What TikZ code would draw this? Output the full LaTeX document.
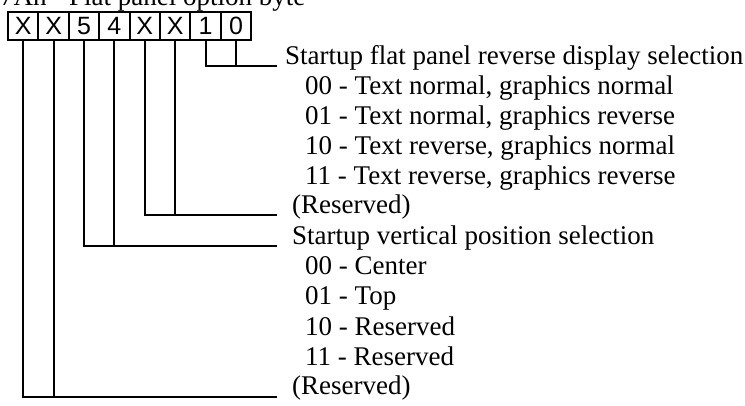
\documentclass[tikz,border=0pt]{standalone}
\usepackage{fontspec}
\setmainfont{Liberation Serif}
\newfontfamily\cellfont{Liberation Sans}
\begin{document}
\begin{tikzpicture}[x=1pt,y=-1pt,
  cell/.style={draw,line width=2pt,inner sep=0pt,minimum width=30.4pt,minimum height=28pt,font=\cellfont\fontsize{25}{25}\selectfont},
  conn/.style={line width=2pt},
  lbl/.style={anchor=base west,inner sep=0pt,font=\fontsize{27}{30}\selectfont}]
\useasboundingbox (0,0) rectangle (745,406);
% title (cut off at top, as in the reference)
\node[anchor=base west,inner sep=0pt,font=\fontsize{27}{30}\selectfont] (title) at (0,6) {7Ah - Flat panel option byte};
% register cells
\foreach \t/\n [count=\i from 0] in {X/b7,X/b6,5/b5,4/b4,X/b3,X/b2,1/b1,0/b0}
  \node[cell] (\n) at ({8+30.4*(\i+0.5)},26) {\t};
% line end points
\coordinate (e10) at (277,66);
\coordinate (e32) at (277,215.5);
\coordinate (e54) at (277,246.5);
\coordinate (e76) at (277,396.5);
% labels group 1
\node[lbl] (t1) at (285,64.5) {Startup flat panel reverse display selection};
\node[lbl] (t1a) at (305,94.4) {00 - Text normal, graphics normal};
\node[lbl] (t1b) at (305,124.3) {01 - Text normal, graphics reverse};
\node[lbl] (t1c) at (305,154.2) {10 - Text reverse, graphics normal};
\node[lbl] (t1d) at (305,184.1) {11 - Text reverse, graphics reverse};
\node[lbl] (t2) at (292,214) {(Reserved)};
% labels group 2
\node[lbl] (t3) at (292,245) {Startup vertical position selection};
\node[lbl] (t3a) at (305,275) {00 - Center};
\node[lbl] (t3b) at (305,305) {01 - Top};
\node[lbl] (t3c) at (305,335) {10 - Reserved};
\node[lbl] (t3d) at (305,365) {11 - Reserved};
\node[lbl] (t4) at (292,395) {(Reserved)};
% connectors
\draw[conn] (b1.south) |- (e10);
\draw[conn] (b0.south) -- (b0.south |- e10);
\draw[conn] (b3.south) |- (e32);
\draw[conn] (b2.south) -- (b2.south |- e32);
\draw[conn] (b5.south) |- (e54);
\draw[conn] (b4.south) -- (b4.south |- e54);
\draw[conn] (b7.south) |- (e76);
\draw[conn] (b6.south) -- (b6.south |- e76);
\end{tikzpicture}
\end{document}
